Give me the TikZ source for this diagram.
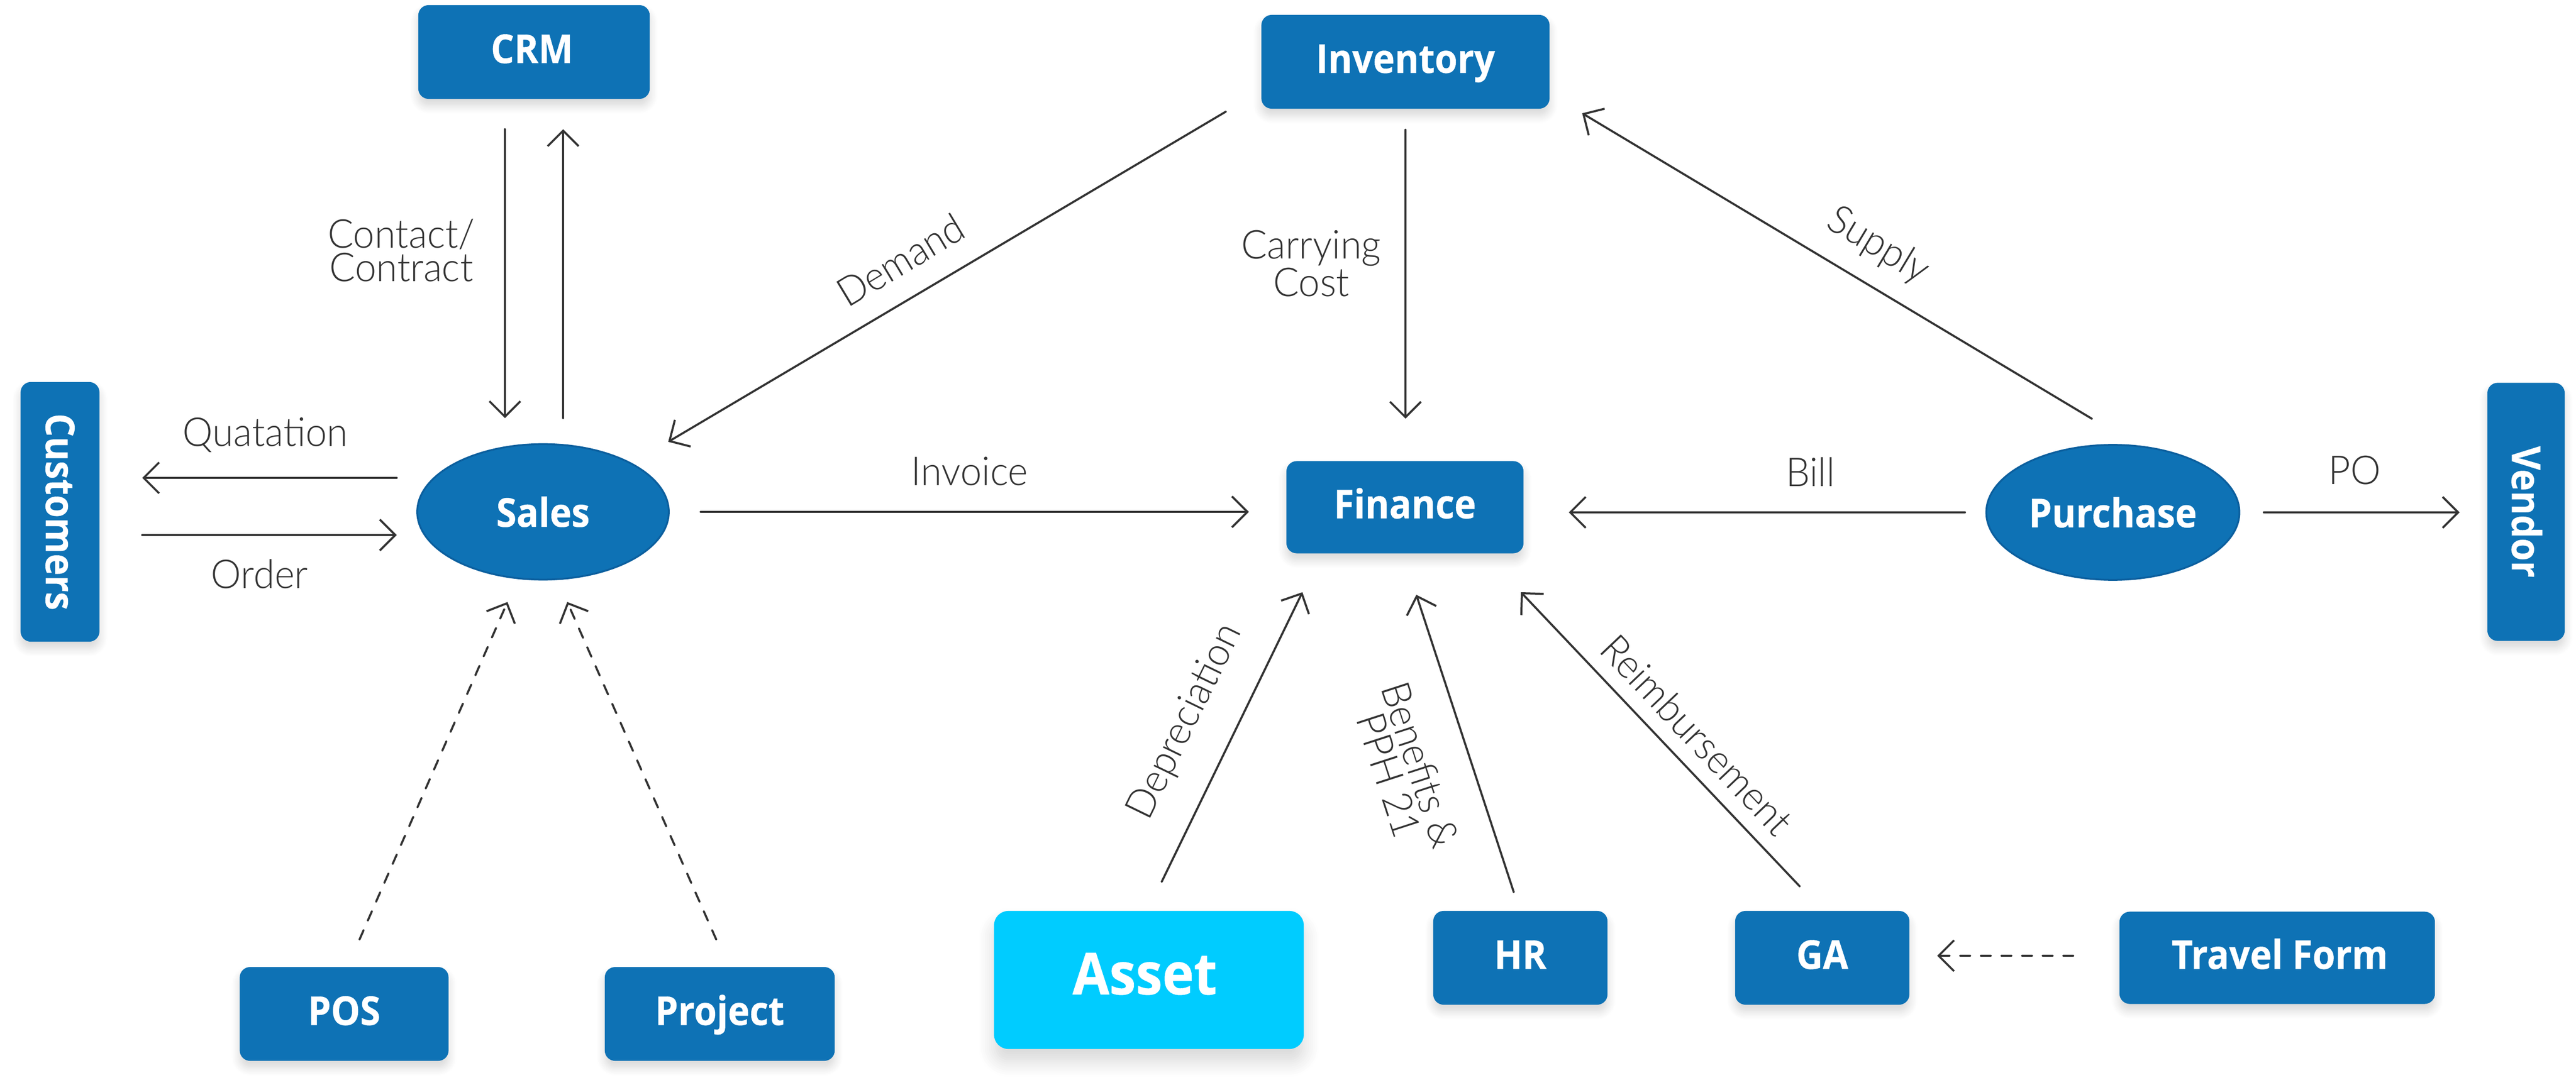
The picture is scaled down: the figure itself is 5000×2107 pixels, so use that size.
\documentclass[tikz,border=0pt]{standalone}
\usepackage{fontspec}
\setmainfont{Open Sans}
\newfontfamily\boxfont[FakeStretch=0.92,FakeBold=0.5]{Open Sans Bold}
\newfontfamily\linefont[FakeStretch=0.96]{Lato Light}
\usetikzlibrary{arrows.meta,shapes.geometric,shadows.blur}
\definecolor{boxblue}{HTML}{0E72B5}
\definecolor{assetblue}{HTML}{00CCFF}
\definecolor{rimblue}{HTML}{0B5F9E}
\definecolor{lineink}{HTML}{333333}
\tikzset{
	block/.style={fill=boxblue,text=white,rounded corners=0.2cm,inner sep=0pt,
		font=\boxfont\fontsize{22}{26}\selectfont,text height=0.55cm,text depth=0.12cm},
	module/.style={block,blur shadow={shadow xshift=0cm,shadow yshift=-0.13cm,shadow blur radius=0.16cm,shadow blur steps=8,shadow opacity=16}},
	bigmodule/.style={block,fill=assetblue,rounded corners=0.28cm,text height=0.8cm,text depth=0.24cm,
		font=\boxfont\fontsize{32}{38}\selectfont,
		blur shadow={shadow xshift=0cm,shadow yshift=-0.24cm,shadow blur radius=0.3cm,shadow blur steps=8,shadow opacity=16}},
	sidemodule/.style={module,rotate=-90,text depth=0cm},
	oval/.style={ellipse,fill=boxblue,draw=rimblue,line width=1pt,text=white,inner sep=0pt,
		font=\boxfont\fontsize{22}{26}\selectfont},
	flow/.style={->,draw=lineink,line width=0.04cm},
	softflow/.style={flow,dash pattern=on 0.19cm off 0.21cm},
	tag/.style={text=lineink,inner sep=0pt,align=center,font=\linefont\fontsize{22}{18.4}\selectfont},
}
\begin{document}
\begin{tikzpicture}[x=0.01cm,y=-0.01cm,>={Straight Barb[length=0.3cm,width=0.6cm]},line join=round,line cap=round]
	\useasboundingbox (0,0) rectangle (5000,2107);
	% boxes
	\node[module,minimum width=4.49cm,minimum height=1.82cm] (crm) at (1036.5,101) {\hspace*{-0.08cm}CRM};
	\node[sidemodule,minimum width=5.04cm,minimum height=1.53cm] (customers) at (116.5,994) {Customers};
	\node[sidemodule,minimum width=5.01cm,minimum height=1.50cm] (vendor) at (4903,994) {Vendor};
	\node[module,minimum width=5.59cm,minimum height=1.82cm] (inventory) at (2728,120) {Inventory};
	\node[module,minimum width=4.60cm,minimum height=1.79cm] (finance) at (2727,985) {Finance};
	\node[oval,minimum width=4.88cm,minimum height=2.63cm] (sales) at (1054,994) {Sales};
	\node[oval,minimum width=4.91cm,minimum height=2.62cm] (purchase) at (4101,995) {Purchase};
	\node[module,minimum width=4.05cm,minimum height=1.82cm] (pos) at (668,1969) {POS};
	\node[module,minimum width=4.46cm,minimum height=1.82cm] (project) at (1397,1969) {Project};
	\node[bigmodule,minimum width=6.01cm,minimum height=2.68cm] (asset) at (2230,1903) {\hspace*{-0.16cm}Asset};
	\node[module,minimum width=3.38cm,minimum height=1.82cm] (hr) at (2951,1860) {HR};
	\node[module,minimum width=3.38cm,minimum height=1.82cm] (ga) at (3537,1860) {GA};
	\node[module,minimum width=6.12cm,minimum height=1.79cm] (travel) at (4420,1860) {\hspace*{0.1cm}Travel Form};
	% connectors
	\draw[flow] ([shift={(-56.5,150)}]crm.center)--([shift={(-74,-182)}]sales.center);
	\draw[flow] ([shift={(39,-182)}]sales.center)--([shift={(56.5,150)}]crm.center);
	\draw[flow] ([shift={(-284,-66)}]sales.center)--([shift={(159.5,-66)}]customers.center);
	\draw[flow] ([shift={(159.5,45)}]customers.center)--([shift={(-284,45)}]sales.center);
	\draw[flow] ([shift={(-349,97)}]inventory.center)--([shift={(243,-136)}]sales.center);
	\draw[flow] ([shift={(306,0)}]sales.center)--([shift={(-303,9)}]finance.center);
	\draw[flow] ([shift={(0,132)}]inventory.center)--([shift={(1,-172)}]finance.center);
	\draw[flow] ([shift={(-41,-182)}]purchase.center)--([shift={(343,100)}]inventory.center);
	\draw[flow] ([shift={(-287,0)}]purchase.center)--([shift={(318,10)}]finance.center);
	\draw[flow] ([shift={(293,0)}]purchase.center)--([shift={(-129,1)}]vendor.center);
	\draw[softflow] ([shift={(30,-145)}]pos.center)--([shift={(-69,175)}]sales.center);
	\draw[softflow] ([shift={(-7,-145)}]project.center)--([shift={(47,175)}]sales.center);
	\draw[flow] ([shift={(25,-191)}]asset.center)--([shift={(-199,165)}]finance.center);
	\draw[flow] ([shift={(-13,-128)}]hr.center)--([shift={(22,170)}]finance.center);
	\draw[flow] ([shift={(-44,-139)}]ga.center)--([shift={(225,165)}]finance.center);
	\draw[softflow] ([shift={(-396,-4)}]travel.center)--([shift={(223,-4)}]ga.center);
	% labels
	\node[tag] (contactlabel) at (779,486) {Contact/\\Contract};
	\node[tag] (quatationlabel) at (515,845) {Quatation};
	\node[tag] (orderlabel) at (504,1115) {Order};
	\node[tag,rotate=31] (demandlabel) at (1748,505) {Demand};
	\node[tag] (carryinglabel) at (2545,512) {Carrying\\Cost};
	\node[tag,rotate=-31] (supplylabel) at (3645,478) {Supply};
	\node[tag] (invoicelabel) at (1882,915) {Invoice};
	\node[tag] (billlabel) at (3514,916) {Bill};
	\node[tag] (polabel) at (4570,913) {PO};
	\node[tag,rotate=64] (depreciationlabel) at (2301,1402) {Depreciation};
	\node[tag,rotate=-72] (benefitslabel) at (2727,1495) {Benefits \&\\PPH 21};
	\node[tag,rotate=-46.5] (reimbursementlabel) at (3294,1427) {Reimbursement};
\end{tikzpicture}
\end{document}
